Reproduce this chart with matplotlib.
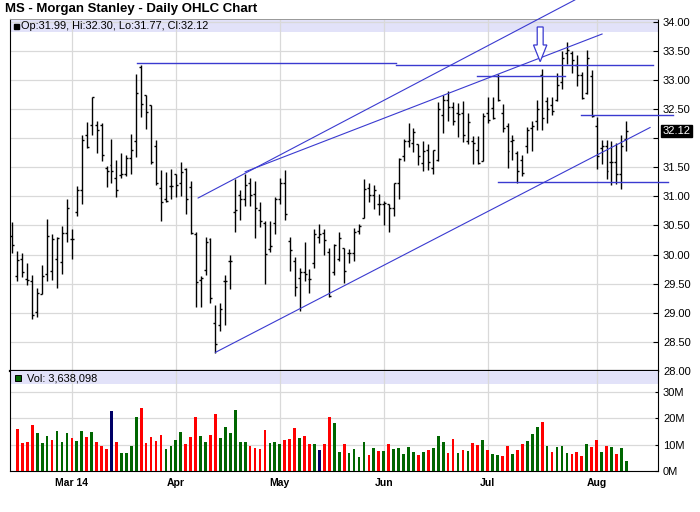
import numpy as np
import pandas as pd
import matplotlib
matplotlib.use("Agg")
import matplotlib.pyplot as plt
from matplotlib.patches import Polygon

plt.rcParams['font.family'] = ['Liberation Sans', 'DejaVu Sans']

# trading days on the chart (NYSE holidays removed)
holidays = pd.to_datetime(['2014-02-17', '2014-04-18', '2014-05-26', '2014-07-04'])
dates = pd.bdate_range('2014-02-12', '2014-08-11')
dates = dates[~dates.isin(holidays)]

opens = [30.32, 29.63, 29.92, 29.58, 29.55, 29.02, 29.32, 29.66, 29.72, 29.92,
         29.87, 30.37, 30.26, 30.73, 31.11, 32.05, 32.22, 32.22, 32.22, 31.49,
         31.53, 31.31, 31.37, 31.39, 31.65, 31.94, 33.22, 32.74, 32.57, 31.86,
         31.14, 30.95, 31.17, 31.38, 31.22, 31.46, 31.16, 30.36, 29.57, 29.73,
         30.26, 28.83, 28.79, 29.55, 29.88, 30.73, 31.03, 30.96, 31.23, 31.04,
         30.77, 30.54, 30.09, 30.54, 30.96, 31.22, 30.23, 29.89, 29.60, 29.70,
         29.58, 29.85, 30.30, 30.37, 30.04, 29.70, 29.92, 30.11, 30.02, 30.02,
         30.41, 30.63, 31.14, 31.02, 30.86, 30.86, 30.86, 30.80, 31.22, 31.69,
         31.95, 31.92, 31.89, 31.57, 31.79, 31.48, 31.63, 32.39, 32.66, 32.54,
         32.43, 32.43, 31.94, 31.94, 31.80, 31.61, 32.43, 32.51, 33.07, 32.43,
         32.20, 31.94, 31.74, 31.63, 31.86, 32.17, 32.29, 33.09, 32.63, 32.57,
         32.66, 32.96, 33.46, 33.46, 33.26, 33.09, 32.77, 33.06, 32.20, 31.83,
         31.86, 31.58, 31.59, 31.39, 31.99]
highs = [30.56, 30.06, 30.02, 29.86, 29.65, 29.43, 29.82, 30.61, 30.35, 30.30,
         30.49, 30.95, 30.43, 31.17, 32.05, 32.27, 32.71, 32.30, 32.25, 31.52,
         31.99, 31.63, 31.74, 31.71, 32.07, 33.10, 33.25, 32.74, 32.57, 31.97,
         31.45, 31.42, 31.47, 31.39, 31.59, 31.48, 31.26, 30.38, 29.63, 30.30,
         30.28, 29.14, 29.16, 29.65, 30.00, 31.29, 31.11, 31.38, 31.32, 31.26,
         30.90, 30.58, 30.58, 30.99, 31.32, 31.45, 30.30, 29.96, 29.77, 30.22,
         29.75, 30.43, 30.52, 30.44, 30.12, 30.18, 30.38, 30.12, 30.10, 30.46,
         30.52, 31.30, 31.23, 31.20, 31.04, 30.92, 30.87, 31.23, 31.66, 31.99,
         32.26, 32.18, 31.90, 31.95, 31.89, 31.80, 32.62, 32.74, 32.81, 32.62,
         32.60, 32.63, 32.43, 32.03, 32.03, 32.43, 32.70, 32.70, 33.10, 32.59,
         32.26, 32.06, 31.77, 31.71, 32.19, 32.30, 32.66, 33.19, 32.71, 32.71,
         33.11, 33.49, 33.64, 33.49, 33.43, 33.14, 33.51, 33.17, 32.36, 31.97,
         31.97, 31.95, 31.91, 32.06, 32.30]
lows = [30.02, 29.54, 29.61, 29.47, 28.89, 28.92, 29.32, 29.54, 29.56, 29.42,
        29.66, 30.22, 29.93, 30.66, 30.86, 31.82, 32.05, 31.75, 31.61, 31.16,
        31.22, 30.99, 31.31, 31.34, 31.39, 31.68, 32.36, 32.16, 31.56, 31.20,
        30.58, 30.90, 30.96, 30.99, 31.00, 30.70, 30.36, 29.10, 29.10, 29.64,
        29.16, 28.31, 28.69, 28.79, 29.40, 30.39, 30.60, 30.83, 30.83, 30.29,
        30.47, 29.49, 30.05, 30.35, 30.86, 30.60, 29.71, 29.28, 29.03, 29.55,
        29.34, 29.77, 30.19, 29.99, 29.27, 29.64, 29.88, 29.51, 29.85, 29.89,
        30.35, 30.62, 30.90, 30.78, 30.67, 30.51, 30.39, 30.66, 30.96, 31.60,
        31.84, 31.76, 31.53, 31.43, 31.45, 31.39, 31.60, 32.09, 32.29, 32.23,
        32.01, 31.93, 31.89, 31.55, 31.55, 31.60, 32.26, 32.33, 32.63, 32.11,
        31.49, 31.63, 31.23, 31.34, 31.75, 31.77, 32.14, 32.13, 32.26, 32.40,
        32.63, 32.84, 33.27, 33.11, 32.90, 32.67, 32.76, 32.36, 31.46, 31.56,
        31.30, 31.20, 31.21, 31.13, 31.77]
closes = [30.17, 29.90, 29.70, 29.56, 28.96, 29.34, 29.63, 30.32, 30.26, 30.28,
          30.37, 30.79, 30.26, 31.11, 31.97, 31.84, 32.70, 32.13, 31.70, 31.44,
          31.44, 31.11, 31.38, 31.65, 31.80, 32.77, 32.59, 32.44, 31.58, 31.22,
          30.90, 30.92, 31.17, 31.20, 31.41, 30.95, 30.37, 29.53, 29.60, 30.22,
          29.25, 28.47, 29.07, 29.55, 29.89, 30.76, 30.96, 31.20, 31.03, 30.80,
          30.57, 30.01, 30.15, 30.96, 31.22, 30.69, 30.08, 29.45, 29.70, 29.66,
          29.58, 30.35, 30.35, 30.25, 29.29, 30.16, 30.29, 29.72, 30.02, 30.39,
          30.49, 31.13, 31.03, 31.11, 30.87, 30.89, 30.80, 31.22, 31.64, 31.95,
          31.97, 32.10, 31.69, 31.77, 31.59, 31.79, 32.49, 32.66, 32.54, 32.29,
          32.41, 32.06, 32.27, 31.91, 31.57, 32.37, 32.31, 32.34, 32.66, 32.17,
          31.77, 31.97, 31.43, 31.40, 32.14, 32.20, 32.49, 32.34, 32.49, 32.46,
          32.91, 33.37, 33.51, 33.34, 33.09, 32.69, 33.37, 32.37, 31.69, 31.86,
          31.43, 31.59, 31.39, 31.86, 32.12]

# volume in millions, from the second bar on (the first has no visible bar)
volume = [16.1, 10.6, 11.0, 17.5, 14.4, 10.6, 13.3, 11.8, 15.2, 11.0,
          14.4, 12.5, 11.4, 15.2, 12.9, 14.8, 11.0, 9.5, 8.4, 22.8,
          11.0, 6.8, 6.8, 9.5, 20.5, 23.9, 10.6, 12.9, 11.4, 13.7,
          8.4, 9.5, 11.8, 14.8, 10.3, 12.9, 20.5, 13.3, 11.0, 13.7,
          21.6, 12.5, 16.7, 14.4, 23.2, 11.0, 11.0, 9.5, 8.7, 8.4,
          15.6, 10.6, 11.0, 10.3, 11.8, 12.2, 16.3, 12.5, 13.3, 10.3,
          10.3, 8.0, 10.3, 20.5, 18.2, 7.2, 10.3, 6.8, 8.4, 5.3,
          11.0, 6.1, 8.7, 7.6, 7.6, 10.3, 8.4, 8.7, 6.5, 9.1,
          7.2, 6.1, 7.2, 8.0, 8.7, 13.3, 11.0, 6.8, 12.2, 6.8,
          8.0, 7.6, 10.6, 9.9, 11.8, 8.0, 6.5, 6.1, 5.7, 9.5,
          6.5, 8.0, 10.3, 11.4, 14.1, 16.7, 18.6, 9.5, 7.2, 9.1,
          9.5, 6.8, 6.5, 7.2, 5.7, 10.3, 9.1, 11.8, 7.2, 9.5,
          9.1, 6.5, 8.7, 3.64]
last_volume = 3638098
vol_codes = ("RRRRGGGRGGGRGGRGRRRN" "RGGGGRRRRRGGGGRRRGGR" "RGGGGGGRRRRGGGRRRGRR"
             "GNRRGGRGGGGRGRGRGGGG" "GRGRGGGRRGRGRRGRGGRR" "GRRGGGRGRGGGRRRGRRGR"
             "GRGG")

month_labels = ['Mar 14', 'Apr', 'May', 'Jun', 'Jul', 'Aug']

# drawn trend lines: (bar index, price) end points
channel_lines = [((37.5, 30.97), (113.6, 34.37)),
                 ((47.0, 31.42), (119.1, 33.785)),
                 ((41.0, 28.32), (128.8, 32.18))]
level_lines = [((25.2, 33.28), (77.5, 33.28)),
               ((77.5, 33.26), (129.4, 33.26)),
               ((93.8, 33.07), (111.6, 33.07)),
               ((114.8, 32.39), (133.4, 32.39)),
               ((98.1, 31.24), (132.4, 31.24))]
arrow_x, arrow_top, arrow_neck, arrow_tip = 106.6, 33.906, 33.597, 33.31

BLUE = '#3a3ad0'
GRID = '#d9d9d9'
BAND = '#e2e2f9'
vol_palette = {'R': '#ff0000', 'G': '#006600', 'N': '#000066'}

x = np.arange(len(dates))
month_idx = [int(np.argmax(dates.month == m)) for m in range(3, 9)]

W, H = 700, 512
def box(l, t, r, b):
    return [l / W, 1 - b / H, (r - l) / W, (b - t) / H]

fig = plt.figure(figsize=(7, 5.12), dpi=100)
ax = fig.add_axes(box(10, 19, 658, 371))
axv = fig.add_axes(box(10, 371, 658, 471), sharex=ax)

# price panel
ax.vlines(x, lows, highs, color='black', lw=1.0, zorder=3)
ax.hlines(opens, x - 0.4, x, color='black', lw=1.0, zorder=3)
ax.hlines(closes, x, x + 0.4, color='black', lw=1.0, zorder=3)

for (x0, y0), (x1, y1) in channel_lines:
    ax.plot([x0, x1], [y0, y1], color=BLUE, lw=0.8, zorder=4, clip_on=False)
for (x0, y0), (x1, y1) in level_lines:
    ax.plot([x0, x1], [y0, y1], color=BLUE, lw=1.0, zorder=4, clip_on=False)

hw, hh = 0.6, 1.35
ax.add_patch(Polygon([(arrow_x - hw, arrow_top), (arrow_x + hw, arrow_top),
                      (arrow_x + hw, arrow_neck), (arrow_x + hh, arrow_neck),
                      (arrow_x, arrow_tip), (arrow_x - hh, arrow_neck),
                      (arrow_x - hw, arrow_neck)],
                     closed=True, fc='white', ec=BLUE, lw=0.9, zorder=5))

ax.set_xlim(-0.5, 130.4)
ax.set_ylim(28.0, 34.043)
ax.axhspan(33.82, 34.1, color=BAND, zorder=0.2, lw=0)
ax.set_axisbelow(True)
ax.set_xticks(month_idx)
ax.tick_params(axis='x', length=0, labelbottom=False)
pticks = np.arange(28.0, 34.01, 0.5)
ax.set_yticks(pticks)
ax.set_yticklabels(['' if abs(t - 32.0) < 1e-6 else f'{t:.2f}' for t in pticks])
ax.yaxis.tick_right()
ax.tick_params(axis='y', direction='in', length=3.6, width=0.8, pad=3.6,
               labelsize=8, colors='black')
ax.grid(True, color=GRID, lw=0.9)
for s in ['left', 'right']:
    ax.spines[s].set_linewidth(0.8)
ax.spines['bottom'].set_linewidth(1.6)
ax.spines['top'].set_color('#999999')
ax.spines['top'].set_linewidth(0.7)

ax.annotate(f'{closes[-1]:.2f}', xy=(1, closes[-1]),
            xycoords=('axes fraction', 'data'), xytext=(3.3, 0),
            textcoords='offset points', ha='left', va='center', fontsize=8,
            color='white',
            bbox=dict(boxstyle='square,pad=0.12', fc='black', ec='black'))

ax.plot([0.0095], [0.979], marker='s', ms=3.6, color='black',
        transform=ax.transAxes, zorder=6)
ax.text(0.0175, 0.979,
        f'Op:{opens[-1]:.2f}, Hi:{highs[-1]:.2f}, Lo:{lows[-1]:.2f}, Cl:{closes[-1]:.2f}',
        transform=ax.transAxes, ha='left', va='center', fontsize=7.9, zorder=6)

# volume panel
axv.bar(x[1:], volume, width=0.55, color=[vol_palette[c] for c in vol_codes],
        zorder=3)
axv.set_ylim(0, 37.9)
axv.axhspan(32.95, 40, color=BAND, zorder=0.2, lw=0)
axv.set_axisbelow(True)
axv.set_yticks([0, 10, 20, 30])
axv.set_yticklabels([f'{v}M' for v in [0, 10, 20, 30]])
axv.yaxis.tick_right()
axv.tick_params(axis='y', direction='in', length=2.5, width=0.8, pad=3.6,
                labelsize=8, colors='black')
axv.set_xticks(month_idx)
axv.set_xticklabels(month_labels, fontsize=7.5, fontweight='bold')
axv.tick_params(axis='x', length=0, pad=5)
axv.grid(True, color=GRID, lw=0.9)
axv.spines['top'].set_visible(False)
for s in ['left', 'right', 'bottom']:
    axv.spines[s].set_linewidth(0.8)

axv.plot([0.012], [0.927], marker='s', ms=5, mfc='#006600', mec='black',
         mew=0.7, transform=axv.transAxes, zorder=6)
axv.text(0.027, 0.927, f'Vol: {last_volume:,}', transform=axv.transAxes,
         ha='left', va='center', fontsize=7.9, zorder=6)

fig.text(4.7 / W, 1 - 9 / H, 'MS - Morgan Stanley - Daily OHLC Chart',
         fontsize=9.5, fontweight='bold', ha='left', va='center')

fig.savefig('out.png', dpi=100)
